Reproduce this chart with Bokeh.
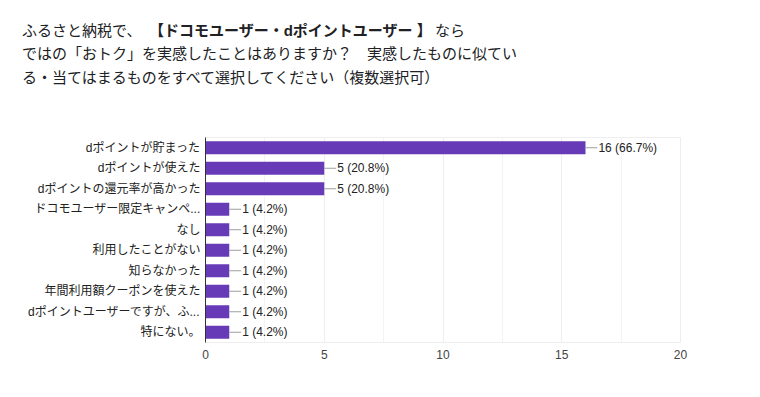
from bokeh.plotting import figure
from bokeh.models import ColumnDataSource, FactorRange, Range1d, FixedTicker, Div
from bokeh.layouts import column
from bokeh.embed import file_html
from bokeh.resources import INLINE
from bokeh.core.properties import value

categories = [
    "dポイントが貯まった",
    "dポイントが使えた",
    "dポイントの還元率が高かった",
    "ドコモユーザー限定キャンペ...",
    "なし",
    "利用したことがない",
    "知らなかった",
    "年間利用額クーポンを使えた",
    "dポイントユーザーですが、ふ...",
    "特にない。",
]
counts = [16, 5, 5, 1, 1, 1, 1, 1, 1, 1]
percents = [66.7, 20.8, 20.8, 4.2, 4.2, 4.2, 4.2, 4.2, 4.2, 4.2]
x_ticks = [0, 5, 10, 15, 20]

title_line1_a = "ふるさと納税で、"
title_line1_b = "【ドコモユーザー・dポイントユーザー 】"
title_line1_c = "なら"
title_line2 = "ではの「おトク」を実感したことはありますか？　実感したものに似てい"
title_line3 = "る・当てはまるものをすべて選択してください（複数選択可）"

FONT = "Liberation Sans, Noto Sans CJK JP"
BAR = "#673ab7"

labels = [f"{c} ({p}%)" for c, p in zip(counts, percents)]
src = ColumnDataSource(dict(
    cat=categories, n=counts, lab=labels,
    lx0=counts, lx1=[c + 0.5 for c in counts],
))

def span(txt, left, top, bold=False):
    w = "bold" if bold else "normal"
    return (f'<span style="position:absolute; left:{left}px; top:{top}px; '
            f'font-weight:{w}; white-space:nowrap; line-height:24px;">{txt}</span>')

title_html = (
    '<div style="position:relative; width:760px; height:100px; '
    "font-family:'Liberation Sans','Noto Sans CJK JP',sans-serif; font-size:15px; color:#202124;\">"
    + span(title_line1_a, 22, 19)
    + span(title_line1_b, 149, 19, bold=True)
    + span(title_line1_c, 435, 19)
    + span(title_line2, 22, 42)
    + span(title_line3, 22, 66)
    + '</div>'
)
div = Div(text=title_html, width=760, height=100, styles={"margin": "0", "padding": "0"})

p = figure(
    width=760, height=297,
    y_range=FactorRange(factors=list(reversed(categories)), range_padding=0),
    x_range=Range1d(0, 20),
    output_backend="svg", toolbar_location=None,
    min_border_left=205, min_border_right=80, min_border_top=37, min_border_bottom=55,
)
p.hbar(y="cat", right="n", left=0, height=0.63, source=src, color=BAR, line_color=None)
p.segment(x0="lx0", x1="lx1", y0="cat", y1="cat", source=src, line_color="#9e9e9e", line_width=1)
p.text(x="lx1", y="cat", text="lab", source=src, text_font=value(FONT), text_font_size="12px",
       text_color="#222222", text_baseline="middle", x_offset=1)

p.outline_line_color = "#eeeeee"
p.ygrid.grid_line_color = None
p.xgrid.ticker = FixedTicker(ticks=x_ticks, minor_ticks=[2.5, 7.5, 12.5, 17.5])
p.xgrid.grid_line_color = "#eeeeee"
p.xgrid.minor_grid_line_color = "#f3f3f3"

p.xaxis.ticker = FixedTicker(ticks=x_ticks)
p.xaxis.axis_line_color = None
p.xaxis.major_tick_line_color = None
p.xaxis.minor_tick_line_color = None
p.xaxis.major_tick_out = 0
p.xaxis.major_label_text_font = FONT
p.xaxis.major_label_text_font_size = "12px"
p.xaxis.major_label_text_color = "#444444"
p.xaxis.major_label_standoff = 7

p.yaxis.axis_line_color = "#333333"
p.yaxis.major_tick_line_color = None
p.yaxis.minor_tick_line_color = None
p.yaxis.major_tick_out = 0
p.yaxis.major_label_text_font = FONT
p.yaxis.major_label_text_font_size = "12px"
p.yaxis.major_label_text_color = "#222222"
p.yaxis.major_label_standoff = 5

layout = column(div, p, spacing=0)
open("out.html", "w").write(file_html(layout, INLINE))
